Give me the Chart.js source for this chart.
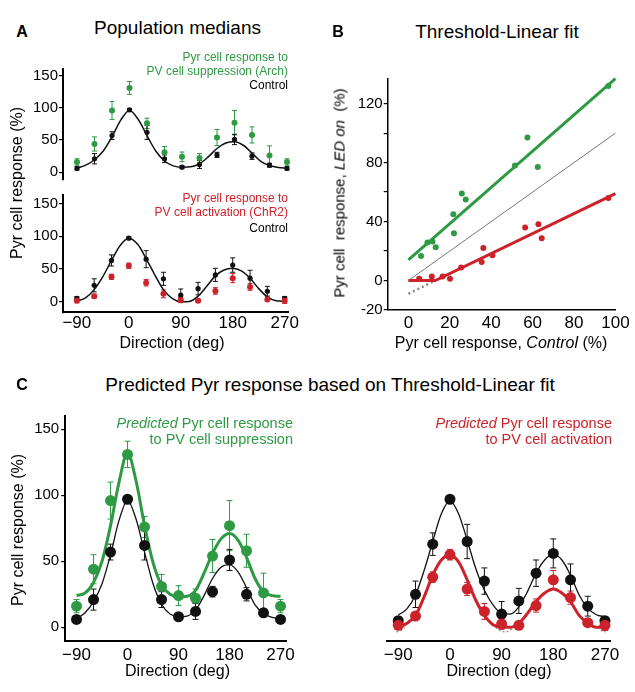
<!DOCTYPE html>
<html>
<head>
<meta charset="utf-8">
<script src="https://cdn.jsdelivr.net/npm/chart.js@4.4.1/dist/chart.umd.min.js"></script>
<style>
  body { margin: 0; background: #fff; }
  #fig { position: relative; width: 635px; height: 692px; overflow: hidden;
         font-family: 'Liberation Sans', Arial, Helvetica, sans-serif; color: #000; }
  #fig canvas { position: absolute; }
  .t { position: absolute; white-space: nowrap; line-height: 1; }
  .c { transform: translate(-50%, -50%); }
  .r { transform: translateY(-50%); text-align: right; }
  .rot { transform: translate(-50%, -50%) rotate(-90deg); }
  .green { color: #2e9a44; }
  .red { color: #cc2229; }
</style>
</head>
<body>
<div id="fig">
  <canvas id="cA1" width="300" height="135" style="left:0;top:55px"></canvas>
  <canvas id="cA2" width="300" height="150" style="left:0;top:185px"></canvas>
  <canvas id="cB" width="305" height="275" style="left:330px;top:60px"></canvas>
  <canvas id="cC1" width="300" height="270" style="left:0;top:400px"></canvas>
  <canvas id="cC2" width="305" height="270" style="left:330px;top:400px"></canvas>

  <div class="t c" style="left:22px;top:32px;font-size:16px;font-weight:bold">A</div>
  <div class="t c" style="left:177.5px;top:27px;font-size:19px">Population medians</div>
  <div class="t r green" style="right:347px;top:57px;font-size:12px">Pyr cell response to</div>
  <div class="t r green" style="right:347px;top:71px;font-size:12px">PV cell suppression (Arch)</div>
  <div class="t r" style="right:347px;top:85px;font-size:12px">Control</div>
  <div class="t r red" style="right:347px;top:198px;font-size:12px">Pyr cell response to</div>
  <div class="t r red" style="right:347px;top:212px;font-size:12px">PV cell activation (ChR2)</div>
  <div class="t r" style="right:347px;top:228px;font-size:12px">Control</div>
  <div class="t rot" style="left:17px;top:183px;font-size:16px">Pyr cell response (%)</div>
  <div class="t c" style="left:172px;top:343px;font-size:16px">Direction (deg)</div>

  <div class="t c" style="left:338px;top:32px;font-size:16px;font-weight:bold">B</div>
  <div class="t c" style="left:497px;top:31px;font-size:19px">Threshold-Linear fit</div>
  <div class="t rot" style="left:339px;top:193px;font-size:15px">Pyr cell&nbsp; response, <i>LED on</i>&nbsp; (%)</div>
  <div class="t c" style="left:501px;top:343px;font-size:16px">Pyr cell response, <i>Control</i> (%)</div>

  <div class="t c" style="left:22px;top:385px;font-size:16px;font-weight:bold">C</div>
  <div class="t c" style="left:330px;top:384px;font-size:19px">Predicted Pyr response based on Threshold-Linear fit</div>
  <div class="t r green" style="right:342px;top:423px;font-size:14.5px"><i>Predicted</i> Pyr cell response</div>
  <div class="t r green" style="right:342px;top:439px;font-size:14.5px">to PV cell suppression</div>
  <div class="t r red" style="right:23px;top:423px;font-size:14.5px"><i>Predicted</i> Pyr cell response</div>
  <div class="t r red" style="right:23px;top:439px;font-size:14.5px">to PV cell activation</div>
  <div class="t rot" style="left:17.5px;top:530px;font-size:16px">Pyr cell response (%)</div>
  <div class="t c" style="left:177.5px;top:671px;font-size:16px">Direction (deg)</div>
  <div class="t c" style="left:499px;top:671px;font-size:16px">Direction (deg)</div>
</div>

<script>
// stimulus directions (deg)
const directions = [-90, -60, -30, 0, 30, 60, 90, 120, 150, 180, 210, 240, 270];
const fitDirections = [-90, -75, -60, -45, -30, -15, 0, 15, 30, 45, 60, 75, 90,
                       105, 120, 135, 150, 165, 180, 195, 210, 225, 240, 255, 270];
const directionTicks = [-90, 0, 90, 180, 270];
const responseTicks = [0, 50, 100, 150];

// Arch experiment (PV cell suppression)
const ctrlArch = [6, 21, 57, 97, 62, 21, 8, 12, 27, 51, 25, 11, 6];
const ctrlArchErr = [2.5, 8, 6, 2, 11, 6, 2, 6, 4, 8, 5, 3, 2.5];
const archResp = [16, 44, 96, 131, 76, 31, 24, 22, 54, 77, 58, 26, 16];
const archErr = [5, 11, 14, 10, 8, 9, 7.5, 7, 12.5, 19, 12.5, 15, 5];
const ctrlArchFit = [6.5, 11, 19.5, 33, 55, 81, 96, 82, 57, 33, 17.5, 10, 8,
                     8.5, 13, 24, 37, 45.5, 47.5, 42, 30, 17, 10.5, 7.5, 6.5];
const archFit = [24, 26, 34, 50, 77, 110, 132, 111, 77, 49, 32, 25, 23,
                 23.5, 28, 41, 56, 67, 71, 66, 53, 37, 27, 24, 23.5];

// ChR2 experiment (PV cell activation)
const ctrlChR2 = [5, 25, 63, 97, 65, 35, 10, 20, 41, 56, 36, 16, 5];
const ctrlChR2Err = [3, 10, 8.5, 2, 13, 10, 9.5, 9.5, 10, 11, 12, 7.5, 3];
const chr2Resp = [1.5, 8.5, 38, 55, 29, 12, 2.5, 1.5, 16.5, 36, 22.5, 3.5, 1.5];
const chr2Err = [3, 3, 4, 4, 5, 6, 4, 2, 5, 7, 5, 2, 4];
const ctrlChR2FitA = [1, 6, 18.5, 38.5, 63, 86, 97, 88, 66, 41, 18.5, 5, 0,
                      0.5, 8.5, 23.5, 39.5, 48.5, 51, 47, 36, 20, 7.5, 1.5, 0.5];
const ctrlChR2FitC = [9.3, 14, 24.5, 43, 65, 86, 96, 86, 66, 44.5, 28, 17, 10.5,
                      10, 15.5, 27, 41, 51, 55, 51, 39.5, 24.5, 14.5, 9.5, 8];
const chr2Fit = [0, 3, 9, 23, 39.5, 51, 55, 49.5, 36, 20.5, 9, 2, 0,
                 0, 3, 10.5, 19.5, 26, 29, 26, 19.5, 9, 3, 0, 0];
// below-zero part of the threshold-linear prediction (dotted)
const belowLeftDir = [-93, -86, -79];
const belowLeftVal = [-3.5, -2.5, 0];
const belowMidDir = [80, 88, 95, 103, 110];
const belowMidVal = [0, -2.8, -3.3, -2.8, 0];
const belowRightDir = [257, 264, 271];
const belowRightVal = [0, -2.5, -3.5];

// Panel B: control vs LED on
const bArchCtrl = [6.1, 9.2, 11.6, 13.2, 21.7, 22, 25.8, 27.7, 51.5, 57.5, 62.5, 96.6];
const bArchLed = [16.7, 25.8, 26.5, 22.6, 45, 32, 59, 55, 78, 97, 77, 132];
const bChr2Ctrl = [5.2, 11.3, 16.5, 20.1, 25.5, 35.4, 36.2, 40.6, 56.4, 62.8, 64.4, 96.6];
const bChr2Led = [1.2, 2.7, 2.7, 1.2, 8.8, 12.5, 22, 17.2, 36, 38.2, 28.7, 56];
const unityX = [0, 100];
const unityY = [0, 100];
const archLineX = [0, 100];
const archLineY = [14, 137];
const chr2LineX = [0, 13, 100];
const chr2LineY = [0, 0, 59];
const chr2ExtX = [0, 13];
const chr2ExtY = [-9, 0];
const bXTicks = [0, 20, 40, 60, 80, 100];
const bYTicks = [-20, 0, 20, 40, 60, 80, 100, 120];
const bYLabels = [-20, 0, 40, 80, 120];

const GREEN = '#2e9a44';
const RED = '#cc2229';
const BLACK = '#111111';

const pts = (xs, ys) => xs.map((x, i) => ({ x: x, y: ys[i] }));
const fmt = v => (v < 0 ? '\u2212' + Math.abs(v) : String(v));

// vertical error bars with caps, drawn under the markers
const errorBars = {
  id: 'errorBars',
  beforeDatasetsDraw(chart, args, opts) {
    const ctx = chart.ctx;
    const yScale = chart.scales.y;
    chart.data.datasets.forEach((ds, i) => {
      if (!ds.errors) return;
      const meta = chart.getDatasetMeta(i);
      ctx.save();
      ctx.strokeStyle = ds.pointBackgroundColor;
      ctx.lineWidth = 1;
      meta.data.forEach((el, j) => {
        const v = ds.data[j].y, e = ds.errors[j];
        const y1 = yScale.getPixelForValue(v + e);
        const y2 = yScale.getPixelForValue(v - e);
        ctx.beginPath();
        ctx.moveTo(el.x, y1); ctx.lineTo(el.x, y2);
        ctx.moveTo(el.x - opts.cap, y1); ctx.lineTo(el.x + opts.cap, y1);
        ctx.moveTo(el.x - opts.cap, y2); ctx.lineTo(el.x + opts.cap, y2);
        ctx.stroke();
      });
      ctx.restore();
    });
  }
};

function pointSet(xs, ys, errs, color, r) {
  return {
    data: pts(xs, ys), errors: errs, showLine: false, clip: false,
    pointRadius: r, pointBackgroundColor: color, pointBorderColor: color, pointBorderWidth: 0
  };
}

function lineSet(xs, ys, color, w, smooth, dash) {
  return {
    data: pts(xs, ys), showLine: true, clip: false, pointRadius: 0,
    borderColor: color, borderWidth: w, borderDash: dash || [],
    cubicInterpolationMode: smooth ? 'monotone' : 'default', tension: 0
  };
}

function makeChart(id, datasets, c) {
  return new Chart(document.getElementById(id), {
    type: 'scatter',
    data: { datasets: datasets },
    plugins: [errorBars],
    options: {
      responsive: false,
      animation: false,
      events: [],
      layout: { padding: c.padding },
      plugins: {
        legend: { display: false },
        tooltip: { enabled: false },
        errorBars: { cap: c.cap || 2.5 }
      },
      scales: {
        x: {
          type: 'linear', min: c.xMin, max: c.xMax, display: c.xShow,
          afterFit: s => { s.height = c.xHeight; },
          afterBuildTicks: s => { s.ticks = c.xTicks.map(v => ({ value: v })); },
          grid: { display: false, drawTicks: false },
          border: { display: true, color: '#000', width: c.axisWidth },
          ticks: { padding: c.xPad, color: '#000', font: { size: 17 }, maxRotation: 0,
                   autoSkip: false, callback: v => fmt(v) }
        },
        y: {
          type: 'linear', min: c.yMin, max: c.yMax, display: c.yShow,
          afterFit: s => { s.width = c.yWidth; },
          afterBuildTicks: s => { s.ticks = c.yTicks.map(v => ({ value: v })); },
          grid: { display: true, drawOnChartArea: false, drawTicks: true, tickLength: 4,
                  color: '#000', lineWidth: 1.2 },
          border: { display: true, color: '#000', width: c.axisWidth },
          ticks: { padding: c.yPad, color: '#000', font: { size: 15 }, autoSkip: false,
                   callback: c.yLabel || (v => fmt(v)) }
        }
      }
    }
  });
}

// A, top: Arch
makeChart('cA1', [
  pointSet(directions, archResp, archErr, GREEN, 3),
  pointSet(directions, ctrlArch, ctrlArchErr, BLACK, 2.6),
  lineSet(fitDirections, ctrlArchFit, BLACK, 1.5, true)
], {
  padding: { left: 0, top: 14.3, right: 9.5, bottom: 5 },
  xMin: -114, xMax: 276, xShow: false, xTicks: directionTicks, xHeight: 0, xPad: 1,
  yMin: -12, yMax: 160, yShow: true, yTicks: responseTicks, yWidth: 63, yPad: 1,
  axisWidth: 2
});

// A, bottom: ChR2
makeChart('cA2', [
  pointSet(directions, chr2Resp, chr2Err, RED, 3),
  pointSet(directions, ctrlChR2, ctrlChR2Err, BLACK, 2.6),
  lineSet(fitDirections, ctrlChR2FitA, BLACK, 1.5, true)
], {
  padding: { left: 0, top: 7.9, right: 9.5, bottom: 0 },
  xMin: -114, xMax: 276, xShow: true, xTicks: directionTicks, xHeight: 22.8, xPad: 1,
  yMin: -16, yMax: 163, yShow: true, yTicks: responseTicks, yWidth: 63, yPad: 1,
  axisWidth: 2
});

// B: threshold-linear fit
makeChart('cB', [
  pointSet(bArchCtrl, bArchLed, null, GREEN, 3),
  pointSet(bChr2Ctrl, bChr2Led, null, RED, 3),
  lineSet(archLineX, archLineY, GREEN, 3, false),
  lineSet(chr2LineX, chr2LineY, RED, 3, false),
  lineSet(unityX, unityY, '#777777', 1, false),
  lineSet(chr2ExtX, chr2ExtY, '#888888', 2.5, false, [2, 3])
], {
  padding: { left: 0, top: 18.6, right: 19.6, bottom: 0 },
  xMin: -10, xMax: 100, xShow: true, xTicks: bXTicks, xHeight: 25, xPad: 3,
  yMin: -20, yMax: 137, yShow: true, yTicks: bYTicks, yWidth: 57.7, yPad: 1,
  yLabel: v => (bYLabels.includes(v) ? String(v) : ''),
  axisWidth: 1.5
});

// C, left: predicted response to PV suppression
makeChart('cC1', [
  pointSet(directions, archResp, archErr, GREEN, 5.5),
  pointSet(directions, ctrlArch, ctrlArchErr, BLACK, 5.5),
  lineSet(fitDirections, archFit, GREEN, 3, true),
  lineSet(fitDirections, ctrlArchFit, BLACK, 1.3, true)
], {
  padding: { left: 0, top: 16.1, right: 11, bottom: 0 },
  xMin: -110, xMax: 280, xShow: true, xTicks: directionTicks, xHeight: 29.5, xPad: 5,
  yMin: -10, yMax: 160, yShow: true, yTicks: responseTicks, yWidth: 65.2, yPad: 2,
  axisWidth: 2, cap: 3
});

// C, right: predicted response to PV activation
makeChart('cC2', [
  pointSet(directions, chr2Resp, chr2Err, RED, 5.5),
  pointSet(directions, ctrlChR2, ctrlChR2Err, BLACK, 5.5),
  lineSet(fitDirections, chr2Fit, RED, 3, true),
  lineSet(fitDirections, ctrlChR2FitC, BLACK, 1.3, true),
  lineSet(belowLeftDir, belowLeftVal, '#999999', 1.5, true, [2, 2]),
  lineSet(belowMidDir, belowMidVal, '#999999', 1.5, true, [2, 2]),
  lineSet(belowRightDir, belowRightVal, '#999999', 1.5, true, [2, 2])
], {
  padding: { left: 56.8, top: 16.1, right: 24.3, bottom: 0 },
  xMin: -110, xMax: 280, xShow: true, xTicks: directionTicks, xHeight: 29.5, xPad: 5,
  yMin: -10, yMax: 160, yShow: false, yTicks: responseTicks, yWidth: 0, yPad: 2,
  axisWidth: 2, cap: 3
});
</script>
</body>
</html>
